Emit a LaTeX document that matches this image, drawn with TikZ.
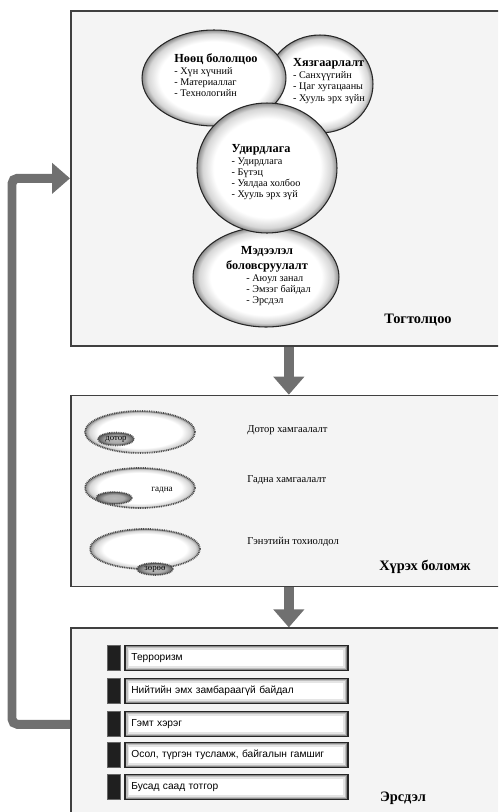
\documentclass[tikz,border=0pt]{standalone}
\usepackage{fontspec}
\setmainfont{Liberation Serif}
\setsansfont{Liberation Sans}
\usepackage{tikz}
\usetikzlibrary{backgrounds}
\usetikzlibrary{positioning}
\usetikzlibrary{shapes.geometric}
\usetikzlibrary{arrows.meta}
\usepackage{xcolor}
\definecolor{arrowgray}{RGB}{112,112,112}
\definecolor{panelfill}{RGB}{244,244,244}

\pgfdeclareradialshading{innershade}{\pgfpoint{0bp}{0bp}}{color(0bp)=(white); color(19bp)=(white); color(23bp)=(black!16); color(25bp)=(black!45); color(50bp)=(black!45)}
\pgfdeclareradialshading{darkshade}{\pgfpoint{0bp}{0bp}}{color(0bp)=(black!28); color(14bp)=(black!33); color(25bp)=(black!65); color(50bp)=(black!65)}

\newcommand{\ttl}[1]{{\fontsize{7}{8}\selectfont\bfseries #1}}

\tikzset{
    panel/.style={draw=black!75, line width=1pt, fill=panelfill, inner sep=0pt},
    bubble/.style={ellipse, draw=black!85, line width=0.6pt, shading=innershade, inner sep=0pt},
    pocket/.style={ellipse, draw=black!70, line width=1pt, dash pattern=on 0.5pt off 0.5pt, shading=innershade, inner sep=0pt},
    kernel/.style={ellipse, draw=black!70, line width=0.9pt, dash pattern=on 0.5pt off 0.5pt, shading=darkshade, inner sep=0pt, font=\fontsize{5}{6}\selectfont},
    note/.style={align=left, inner sep=0pt, font=\fontsize{5.8}{6.4}\selectfont},
    caption/.style={inner sep=0pt, font=\fontsize{8.2}{9}\selectfont\bfseries},
    riskbar/.style={draw=black!85, line width=1pt, fill=white, inner sep=0pt, minimum width=4.46cm, minimum height=0.5cm, text width=4.2cm, align=left, font=\sffamily\fontsize{5.8}{6.4}\selectfont,
        path picture={
            \draw[black!10, line width=5pt] (path picture bounding box.south west) rectangle (path picture bounding box.north east);
            \draw[black!25, line width=3pt] (path picture bounding box.south west) rectangle (path picture bounding box.north east);
            \draw[black!45, line width=1.6pt] (path picture bounding box.south west) rectangle (path picture bounding box.north east);
        }},
    risktab/.style={fill=black!88, draw=black!60, line width=0.4pt, minimum width=0.26cm, minimum height=0.5cm, inner sep=0pt},
    flow/.style={draw=arrowgray, line width=0.2cm, -{Triangle[width=0.6cm,length=0.36cm]}}
}

\begin{document}
\begin{tikzpicture}[x=0.02cm, y=-0.02cm]

    \useasboundingbox (0,0) rectangle (498,812);
    \clip (0,0) rectangle (498,812);

    %Panels
    \node[panel, anchor=north west, minimum width=8.72cm, minimum height=6.7cm] (sys) at (70,10) {};
    \node[panel, below=0.96cm of sys, minimum width=8.72cm, minimum height=3.82cm] (reach) {};
    \node[panel, below=0.8cm of reach, minimum width=8.72cm, minimum height=3.84cm] (risk) {};

    % ------------------

    %Тогтолцоо
    \node[bubble, minimum width=2.92cm, minimum height=2cm] (medeelel) at (266,277) {};
    \node[bubble, minimum width=2.12cm, minimum height=1.96cm] (limit) at (320,84) {};
    \node[bubble, minimum width=2.88cm, minimum height=1.92cm] (nooc) at (214,78) {};
    \node[bubble, minimum width=2.8cm, minimum height=2.6cm] (udird) at (267,168) {};

    \node[note] (nooctxt) at (216,75) {\ttl{Нөөц бололцоо}\\[0.5pt]- Хүн хүчний\\- Материаллаг\\- Технологийн};
    \node[note] (limittxt) at (329,81) {\ttl{Хязгаарлалт}\\[0.5pt]- Санхүүгийн\\- Цаг хугацааны\\- Хууль эрх зүйн};
    \node[note] (udirdtxt) at (266,172) {\ttl{Удирдлага}\\[0.5pt]- Удирдлага\\- Бүтэц\\- Уялдаа холбоо\\- Хууль эрх зүй};
    \node[align=center, inner sep=0pt, font=\fontsize{7}{8.4}\selectfont\bfseries] (medtitle) at (267,259) {Мэдээлэл\\боловсруулалт};
    \node[note, anchor=north west] (medlist) at (246,274) {- Аюул занал\\- Эмзэг байдал\\- Эрсдэл};

    \node[caption] (systxt) at (418,320) {Тогтолцоо};

    % ------------------

    %Хүрэх боломж
    \node[pocket, minimum width=2.2cm, minimum height=0.84cm] (inner) at (140,432) {};
    \node[kernel, minimum width=0.72cm, minimum height=0.26cm] (innerk) at (116,439) {дотор};
    \node[pocket, minimum width=2.2cm, minimum height=0.8cm] (outer) at (140,488) {};
    \node[kernel, minimum width=0.72cm, minimum height=0.24cm] (outerk) at (114,498) {};
    \node[inner sep=0pt, font=\fontsize{5.2}{6}\selectfont] (outertxt) at (162,490) {гадна};
    \node[pocket, minimum width=2.2cm, minimum height=0.8cm] (sudden) at (145,549) {};
    \node[kernel, minimum width=0.72cm, minimum height=0.24cm] (suddenk) at (155,569) {зөрөө};

    \node[anchor=west, inner sep=0pt, font=\fontsize{6}{7}\selectfont] (innertxt) at (247,430) {Дотор хамгаалалт};
    \node[anchor=west, inner sep=0pt, font=\fontsize{6}{7}\selectfont] (outerlbl) at (247,480) {Гадна хамгаалалт};
    \node[anchor=west, inner sep=0pt, font=\fontsize{6}{7}\selectfont] (suddentxt) at (247,542) {Гэнэтийн тохиолдол};

    \node[caption] (reachtxt) at (425,567) {Хүрэх боломж};

    % ------------------

    %Эрсдэл
    \foreach \y/\t [count=\i] in {658/Терроризм, 691/Нийтийн эмх замбараагүй байдал, 724/Гэмт хэрэг, 755/{Осол, түргэн тусламж, байгалын гамшиг}, 787/Бусад саад тотгор}
    {
        \node[riskbar, anchor=west] (bar\i) at (124,\y) {\t};
        \node[risktab, left=0.06cm of bar\i] (tab\i) {};
    }

    \node[caption] (risktxt) at (403,798) {Эрсдэл};

    % arrows
    \begin{pgfonlayer}{background}
        \draw[flow] (sys.south) -- (reach.north);
        \draw[flow] (reach.south) -- (risk.north);
        \draw[flow, line width=0.18cm, rounded corners=3pt] (risk.west) -- ++(-58,0) |- (sys.west);
    \end{pgfonlayer}
\end{tikzpicture}
\end{document}
